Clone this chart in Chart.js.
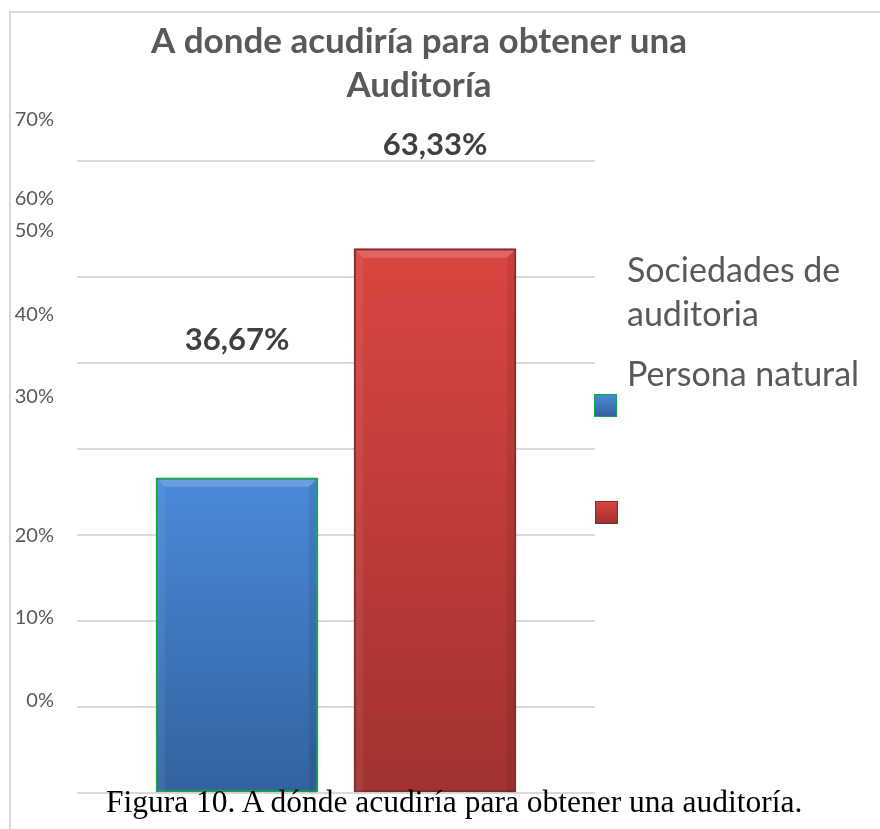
<!DOCTYPE html>
<html>
<head>
<meta charset="utf-8">
<script src="https://cdn.jsdelivr.net/npm/chart.js@4.4.1/dist/chart.umd.min.js"></script>
<style>
  html, body { margin: 0; padding: 0; background: #ffffff; }
  #wrap { position: relative; width: 880px; height: 829px; overflow: hidden; background: #fff; }
  #frame { position: absolute; left: 9px; top: 11px; right: -5px; bottom: -5px;
           border-top: 2px solid #d9d9d9; border-left: 2px solid #d9d9d9; }
  #chart { position: absolute; left: 0; top: 0; }
  #legendText { position: absolute; left: 627px; top: 247px; width: 250px;
                font-family: Lato, "Open Sans", sans-serif; font-size: 34px; line-height: 44px; color: #595959; }
  #legendText div { margin-bottom: 16px; }
  .lbox { position: absolute; width: 21px; height: 21px; border: 1px solid; }
  #caption { position: absolute; left: 106px; top: 786px; white-space: nowrap;
             font-family: "Liberation Serif", "Times New Roman", serif; font-size: 31.5px; line-height: 32px; color: #000; }
</style>
</head>
<body>
<div id="wrap">
  <div id="frame"></div>
  <canvas id="chart" width="880" height="829"></canvas>
  <div id="legendText"></div>
  <div id="caption">Figura 10. A dónde acudiría para obtener una auditoría.</div>
</div>
<script>
// ---- data ----
const categories = ['Sociedades de auditoria', 'Persona natural'];
const values = [36.67, 63.33];
const tickLabels = ['0%', '10%', '20%', '30%', '40%', '50%', '60%', '70%'];
const chartTitle = ['A donde acudiría para obtener una', 'Auditoría'];

// ---- styles ----
const barTop = ['#4a8ad8', '#da4541'];
const barBottom = ['#3362a0', '#a13230'];
const barBorder = ['#17a34a', '#7d2e2c'];
const legendBoxPos = [{ left: 594, top: 394 }, { left: 595, top: 501 }];
// scale layout (from the reference picture)
const gridValues = [0, 10, 20, 30, 40, 50, 60, 73.5];
const tickPositions = [10.8, 20.4, 30, 46.1, 55.7, 65.4, 69.2, 78.3];

function fmt(v) { return v.toFixed(2).replace('.', ',') + '%'; }

function barGradient(i) {
  return (ctx) => {
    const chart = ctx.chart;
    const area = chart.chartArea;
    if (!area || !ctx.raw) return barTop[i];
    const top = chart.scales.y.getPixelForValue(ctx.raw.y);
    const g = chart.ctx.createLinearGradient(0, top, 0, area.bottom);
    g.addColorStop(0, barTop[i]);
    g.addColorStop(1, barBottom[i]);
    return g;
  };
}

const datasets = categories.map((c, i) => ({
  label: c,
  data: [{ x: i + 1, y: values[i] }],
  backgroundColor: barGradient(i),
  borderColor: barBorder[i],
  borderWidth: 2,
  borderSkipped: false,
  grouped: false,
  barThickness: 162
}));

const bevelPlugin = {
  id: 'bevel',
  afterDatasetsDraw(chart) {
    const c = chart.ctx;
    chart.data.datasets.forEach((ds, i) => {
      const el = chart.getDatasetMeta(i).data[0];
      if (!el) return;
      const l = el.x - el.width / 2 + 2, r = el.x + el.width / 2 - 2, t = el.y + 2, d = 7;
      const b = chart.chartArea.bottom;
      c.save();
      c.fillStyle = 'rgba(255,255,255,0.18)';
      c.beginPath();
      c.moveTo(l, t); c.lineTo(r, t); c.lineTo(r - d, t + d); c.lineTo(l + d, t + d); c.closePath();
      c.fill();
      c.fillStyle = 'rgba(255,255,255,0.06)';
      c.beginPath();
      c.moveTo(l, t); c.lineTo(l + d, t + d); c.lineTo(l + d, b); c.lineTo(l, b); c.closePath();
      c.fill();
      c.fillStyle = 'rgba(0,0,0,0.08)';
      c.beginPath();
      c.moveTo(r, t); c.lineTo(r - d, t + d); c.lineTo(r - d, b); c.lineTo(r, b); c.closePath();
      c.fill();
      c.restore();
    });
  }
};

const valueLabelPlugin = {
  id: 'valueLabels',
  afterDatasetsDraw(chart) {
    const c = chart.ctx;
    const yL = chart.scales.yL;
    c.save();
    c.font = 'bold 31px Lato, "Open Sans", sans-serif';
    c.fillStyle = '#404040';
    c.textAlign = 'center';
    c.textBaseline = 'middle';
    chart.data.datasets.forEach((ds, i) => {
      const el = chart.getDatasetMeta(i).data[0];
      if (!el) return;
      c.fillText(fmt(values[i]), el.x, yL.getPixelForValue(values[i]));
    });
    c.restore();
  }
};

new Chart(document.getElementById('chart'), {
  type: 'bar',
  data: { datasets },
  options: {
    responsive: false,
    animation: false,
    layout: { padding: { top: 6, left: 0, right: 42, bottom: 36 } },
    plugins: {
      legend: { display: false },
      tooltip: { enabled: false },
      title: {
        display: true,
        text: chartTitle,
        color: '#595959',
        font: { family: 'Lato, "Open Sans", sans-serif', size: 35, weight: 'bold', lineHeight: 1.25 },
        padding: { top: 14, bottom: 3 }
      }
    },
    scales: {
      x: { type: 'linear', min: 0.192, max: 2.808, offset: false, display: false },
      y: {
        position: 'left',
        min: 0, max: 79.4,
        afterBuildTicks: (s) => { s.ticks = gridValues.map(v => ({ value: v })); },
        afterFit: (s) => { s.width = 0; },
        grid: { color: '#d9d9d9', lineWidth: 2, drawTicks: false },
        border: { display: false },
        ticks: { display: false }
      },
      yT: {
        position: 'left',
        min: 0, max: 79.4,
        afterBuildTicks: (s) => { s.ticks = tickPositions.map(v => ({ value: v })); },
        afterFit: (s) => { s.width = 77; },
        grid: { display: false, drawTicks: false },
        border: { display: false },
        ticks: {
          autoSkip: false,
          padding: 23,
          color: '#595959',
          font: { family: 'Lato, "Open Sans", sans-serif', size: 20 },
          callback: (v, i) => tickLabels[i]
        }
      },
      yL: {
        position: 'right',
        min: -25.3, max: 68.1,
        afterFit: (s) => { s.width = 243; },
        grid: { display: false, drawTicks: false },
        border: { display: false },
        ticks: { display: false }
      }
    }
  },
  plugins: [bevelPlugin, valueLabelPlugin]
});

// legend (built from the data)
const lt = document.getElementById('legendText');
categories.forEach((c) => { const d = document.createElement('div'); d.textContent = c; lt.appendChild(d); });
const wrap = document.getElementById('wrap');
categories.forEach((c, i) => {
  const b = document.createElement('div');
  b.className = 'lbox';
  b.style.left = legendBoxPos[i].left + 'px';
  b.style.top = legendBoxPos[i].top + 'px';
  b.style.background = 'linear-gradient(' + barTop[i] + ',' + barBottom[i] + ')';
  b.style.borderColor = barBorder[i];
  wrap.appendChild(b);
});
</script>
</body>
</html>
